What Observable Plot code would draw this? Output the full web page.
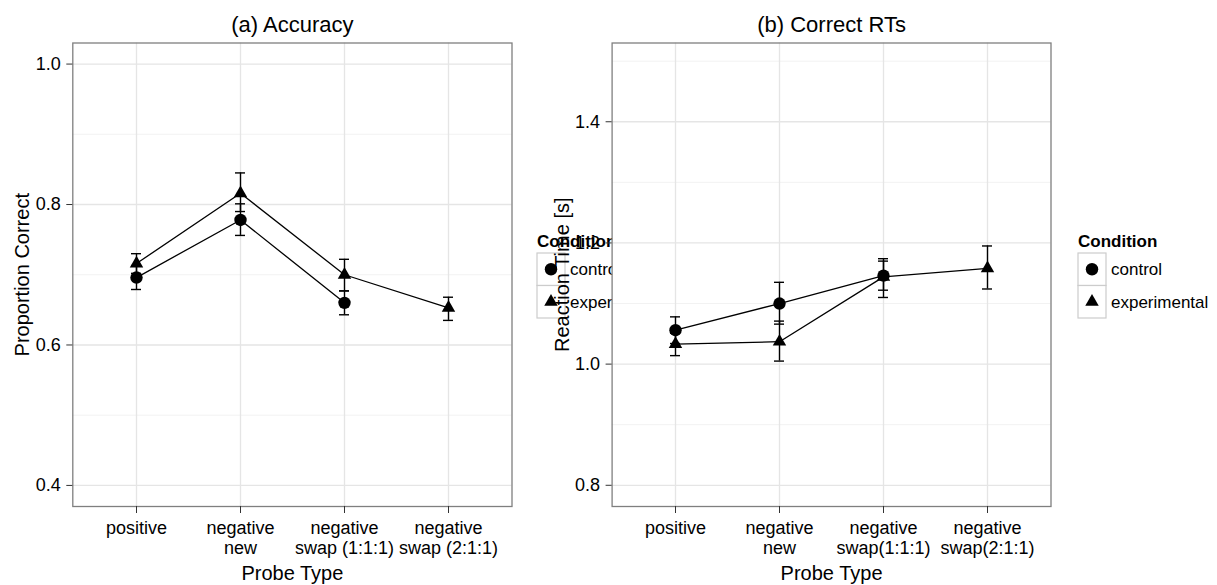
<!DOCTYPE html>
<html><head><meta charset="utf-8">
<script src="https://cdn.jsdelivr.net/npm/d3@7"></script>
<script src="https://cdn.jsdelivr.net/npm/@observablehq/plot@0.6"></script>
<style>
html,body{margin:0;padding:0;background:#fff;}
#wrap{position:relative;width:1217px;height:585px;font-family:"Liberation Sans",Arial,sans-serif;}
#wrap svg{position:absolute;left:0;top:0;}
</style></head><body><div id="wrap"></div>
<script>
const FONT = '"Liberation Sans", Arial, sans-serif';
const conditions = ["control", "experimental"];
const legendTitle = "Condition";

// (a) Accuracy
const accCategories = ["positive", "negative\nnew", "negative\nswap (1:1:1)", "negative\nswap (2:1:1)"];
const accControl   = [0.696, 0.778, 0.660, null];
const accControlLo = [0.679, 0.756, 0.643, null];
const accControlHi = [0.713, 0.801, 0.677, null];
const accExp       = [0.716, 0.816, 0.700, 0.653];
const accExpLo     = [0.702, 0.790, 0.677, 0.635];
const accExpHi     = [0.730, 0.845, 0.722, 0.668];
const accTicks = [0.4, 0.6, 0.8, 1.0];
const accMinor = [0.5, 0.7, 0.9];

// (b) Correct RTs
const rtCategories = ["positive", "negative\nnew", "negative\nswap(1:1:1)", "negative\nswap(2:1:1)"];
const rtControl   = [1.056, 1.100, 1.146, null];
const rtControlLo = [1.034, 1.066, 1.122, null];
const rtControlHi = [1.078, 1.135, 1.170, null];
const rtExp       = [1.033, 1.037, 1.144, 1.158];
const rtExpLo     = [1.014, 1.005, 1.110, 1.124];
const rtExpHi     = [1.051, 1.071, 1.174, 1.195];
const rtTicks = [0.8, 1.0, 1.2, 1.4];
const rtMinor = [0.9, 1.1, 1.3, 1.5];

function rows(cats, series) {
  const out = [];
  series.forEach(([cond, v, lo, hi]) => {
    cats.forEach((cat, i) => {
      if (v[i] != null) out.push({cat, cond, v: v[i], lo: lo[i], hi: hi[i]});
    });
  });
  return out;
}

const accData = rows(accCategories, [
  ["control", accControl, accControlLo, accControlHi],
  ["experimental", accExp, accExpLo, accExpHi]
]);
const rtData = rows(rtCategories, [
  ["control", rtControl, rtControlLo, rtControlHi],
  ["experimental", rtExp, rtExpLo, rtExpHi]
]);

function panel(o) {
  const data = o.data;
  return Plot.plot({
    width: 1217, height: 585,
    marginLeft: o.ml, marginRight: o.mr, marginTop: 42.5, marginBottom: 79,
    style: {background: "transparent", fontFamily: FONT, color: "black", overflow: "visible"},
    x: {type: "band", domain: o.cats, paddingInner: 0.9, paddingOuter: 0.55, axis: null},
    y: {domain: o.domain, axis: null},
    marks: [
      Plot.frame({fill: "white"}),
      Plot.gridY(o.minor, {stroke: "#f2f2f2", strokeOpacity: 1, strokeWidth: 1}),
      Plot.gridY(o.ticks, {stroke: "#e5e5e5", strokeOpacity: 1, strokeWidth: 1.3}),
      Plot.gridX({stroke: "#e5e5e5", strokeOpacity: 1, strokeWidth: 1.3}),
      Plot.frame({stroke: "#7f7f7f", strokeWidth: 1.3}),
      Plot.axisY(o.ticks, {tickSize: 6, tickPadding: 6, fontSize: 18, tickFormat: d3.format(".1f"), label: null, stroke: "#333"}),
      Plot.axisX({tickSize: 7, tickPadding: 7, fontSize: 18, lineHeight: 1.08, label: null, stroke: "#333"}),
      Plot.ruleX(data, {x: "cat", y1: "lo", y2: "hi", stroke: "black", strokeWidth: 1.4}),
      Plot.tickY(data, {x: "cat", y: "lo", stroke: "black", strokeWidth: 1.4}),
      Plot.tickY(data, {x: "cat", y: "hi", stroke: "black", strokeWidth: 1.4}),
      Plot.line(data, {x: "cat", y: "v", z: "cond", stroke: "black", strokeWidth: 1.3}),
      Plot.dot(data.filter(d => d.cond === conditions[0]), {x: "cat", y: "v", symbol: "circle", r: 6.2, fill: "black", stroke: null}),
      Plot.dot(data.filter(d => d.cond === conditions[1]), {x: "cat", y: "v", symbol: "triangle", r: 5, fill: "black", stroke: null}),
      Plot.text([o.title], {frameAnchor: "top", dy: -18, lineAnchor: "middle", textAnchor: "middle", fontSize: 22, fill: "black"}),
      Plot.text([o.xlabel], {frameAnchor: "bottom", dy: 67, lineAnchor: "middle", textAnchor: "middle", fontSize: 20, fill: "black"}),
      Plot.text([o.ylabel], {frameAnchor: "left", dx: -50, rotate: -90, lineAnchor: "middle", textAnchor: "middle", fontSize: 20, fill: "black"})
    ]
  });
}

function legend(x0) {
  const svg = d3.create("svg").attr("width", 1217).attr("height", 585)
    .style("font-family", FONT).style("overflow", "visible");
  const g = svg.append("g").attr("transform", `translate(${x0},0)`);
  g.append("text").attr("x", 0).attr("y", 246.5).attr("font-size", 17).attr("font-weight", "bold").text(legendTitle);
  const top = 253, rowH = 32.5, keyW = 28;
  conditions.forEach((c, i) => {
    const y = top + i * rowH;
    g.append("rect").attr("x", 0).attr("y", y).attr("width", keyW).attr("height", rowH)
      .attr("fill", "white").attr("stroke", "#cccccc").attr("stroke-width", 1.2);
    const sym = i === 0 ? d3.symbol(d3.symbolCircle, Math.PI * 6.2 * 6.2) : d3.symbol(d3.symbolTriangle, Math.PI * 5 * 5);
    g.append("path").attr("d", sym()).attr("transform", `translate(${keyW / 2},${y + rowH / 2})`).attr("fill", "black");
    g.append("text").attr("x", keyW + 5).attr("y", y + rowH / 2).attr("dy", "0.35em").attr("font-size", 17).text(c);
  });
  return svg.node();
}

const wrap = document.getElementById("wrap");
wrap.appendChild(panel({data: accData, cats: accCategories, domain: [0.37, 1.03], ticks: accTicks, minor: accMinor,
  ml: 72.3, mr: 1217 - 511.5, title: "(a) Accuracy", xlabel: "Probe Type", ylabel: "Proportion Correct"}));
wrap.appendChild(legend(537));
wrap.appendChild(panel({data: rtData, cats: rtCategories, domain: [0.765, 1.53], ticks: rtTicks, minor: rtMinor,
  ml: 611.6, mr: 1217 - 1050.5, title: "(b) Correct RTs", xlabel: "Probe Type", ylabel: "Reaction Time [s]"}));
wrap.appendChild(legend(1078));
</script></body></html>
